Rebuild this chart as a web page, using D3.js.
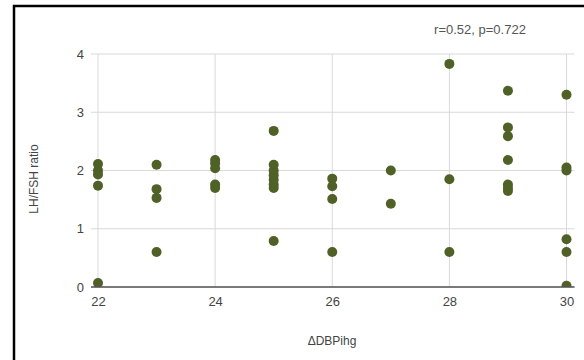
<!DOCTYPE html>
<html>
<head>
<meta charset="utf-8">
<script src="https://cdn.jsdelivr.net/npm/d3@7"></script>
<style>
  body { margin: 0; background: #fff; }
  svg { display: block; font-family: Arial, "Liberation Sans", sans-serif; }
</style>
</head>
<body>
<div id="chart"></div>
<script>
// x = ΔDBPihg, y = LH/FSH ratio
const xVals = [22, 22, 22, 22, 22,
  23, 23, 23, 23,
  24, 24, 24, 24, 24,
  25, 25, 25, 25, 25, 25, 25, 25,
  26, 26, 26, 26,
  27, 27,
  28, 28, 28,
  29, 29, 29, 29, 29, 29, 29,
  30, 30, 30, 30, 30, 30];
const yVals = [2.11, 2.0, 1.93, 1.74, 0.07,
  2.10, 1.68, 1.53, 0.60,
  2.18, 2.12, 2.04, 1.76, 1.70,
  2.68, 2.10, 2.00, 1.92, 1.84, 1.76, 1.70, 0.79,
  1.86, 1.73, 1.51, 0.60,
  2.00, 1.43,
  3.83, 1.85, 0.60,
  3.37, 2.74, 2.59, 2.18, 1.76, 1.70, 1.65,
  3.30, 2.05, 2.00, 0.82, 0.60, 0.02];
const xTicks = [22, 24, 26, 28, 30];
const yTicks = [0, 1, 2, 3, 4];
const title = "r=0.52, p=0.722";

const W = 584, H = 360;
const margin = { top: 54, right: 17, bottom: 73, left: 98 };
const width = 566.5 - margin.left, height = 287 - margin.top;

const svg = d3.select("#chart").append("svg")
  .attr("width", W).attr("height", H);

// outer frame (right and bottom sides fall outside the crop)
svg.append("rect")
  .attr("x", 14).attr("y", 6)
  .attr("width", 573).attr("height", 360)
  .attr("fill", "none").attr("stroke", "#000").attr("stroke-width", 2.5);

const g = svg.append("g")
  .attr("transform", "translate(" + margin.left + "," + margin.top + ")");

const x = d3.scaleLinear().domain([22, 30]).range([0, width]);
const y = d3.scaleLinear().domain([0, 4]).range([height, 0]);

// gridlines
g.append("g").selectAll("line.h")
  .data(yTicks).enter().append("line")
  .attr("x1", -7).attr("x2", width + 8)
  .attr("y1", d => y(d)).attr("y2", d => y(d))
  .attr("stroke", "#d9d9d9").attr("stroke-width", 1);

g.append("g").selectAll("line.v")
  .data(xTicks).enter().append("line")
  .attr("x1", d => x(d)).attr("x2", d => x(d))
  .attr("y1", 0).attr("y2", height)
  .attr("stroke", "#d9d9d9").attr("stroke-width", 1);

// tick labels via axes
const xAxis = g.append("g")
  .attr("transform", "translate(0," + height + ")")
  .call(d3.axisBottom(x).tickValues(xTicks).tickFormat(d3.format("d")).tickSize(0).tickPadding(10));
xAxis.select(".domain").remove();

const yAxis = g.append("g")
  .call(d3.axisLeft(y).tickValues(yTicks).tickFormat(d3.format("d")).tickSize(0).tickPadding(14));
yAxis.select(".domain").remove();

g.selectAll(".tick text")
  .attr("fill", "#444").style("font-size", "13px");

// points, clipped at the plot area
g.append("clipPath").attr("id", "clip")
  .append("rect").attr("x", -10).attr("y", -10)
  .attr("width", width + 20).attr("height", height + 10);

const pts = xVals.map((v, i) => ({ x: v, y: yVals[i] }));
g.append("g").attr("clip-path", "url(#clip)")
  .selectAll("circle")
  .data(pts).enter().append("circle")
  .attr("cx", d => x(d.x))
  .attr("cy", d => y(d.y))
  .attr("r", 5)
  .attr("fill", "#4f6126");

// baseline over the points
g.append("line")
  .attr("x1", -7).attr("x2", width + 8)
  .attr("y1", height).attr("y2", height)
  .attr("stroke", "#555").attr("stroke-width", 1.5);

// title
svg.append("text")
  .attr("x", 480).attr("y", 34)
  .attr("text-anchor", "middle")
  .attr("fill", "#555").style("font-size", "13px")
  .text(title);

// axis titles
svg.append("text")
  .attr("x", 332).attr("y", 345)
  .attr("text-anchor", "middle")
  .attr("fill", "#444").style("font-size", "12px")
  .text("ΔDBPihg");

svg.append("text")
  .attr("transform", "translate(38,179) rotate(-90)")
  .attr("text-anchor", "middle")
  .attr("fill", "#444").style("font-size", "12px")
  .text("LH/FSH ratio");
</script>
</body>
</html>
